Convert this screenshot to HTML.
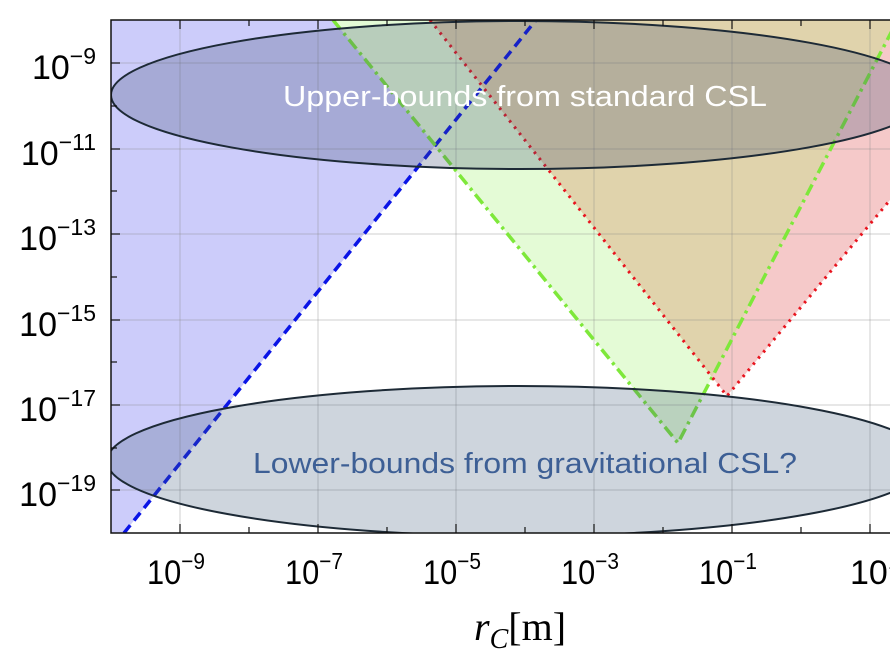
<!DOCTYPE html>
<html><head><style>
body{margin:0;background:#fff;width:890px;height:664px;overflow:hidden}
</style></head><body>
<svg width="890" height="664" viewBox="0 0 890 664" xmlns="http://www.w3.org/2000/svg">
<defs><clipPath id="c"><rect x="111" y="20" width="800" height="513"/></clipPath></defs>
<g clip-path="url(#c)">
<rect x="111" y="20" width="800" height="513" fill="#fff"/>
<polygon points="111,20 536,20 124,533 111,533" fill="#ccccfa"/>
<polygon points="333,20 678,443 895,25 895,20" fill="#e4fbd6"/>
<polygon points="712,377 727,396 895,194 895,25" fill="#f5c9c9"/>
<polygon points="430,20 712,377 895,25 895,20" fill="#e0d3ac"/>
<g stroke="#888" stroke-opacity="0.4" stroke-width="1">
<line x1="180" y1="20" x2="180" y2="533"/><line x1="318" y1="20" x2="318" y2="533"/>
<line x1="456" y1="20" x2="456" y2="533"/><line x1="594" y1="20" x2="594" y2="533"/>
<line x1="732" y1="20" x2="732" y2="533"/><line x1="870" y1="20" x2="870" y2="533"/>
<line x1="111" y1="63" x2="890" y2="63"/><line x1="111" y1="149" x2="890" y2="149"/>
<line x1="111" y1="234" x2="890" y2="234"/><line x1="111" y1="320" x2="890" y2="320"/>
<line x1="111" y1="405" x2="890" y2="405"/><line x1="111" y1="490" x2="890" y2="490"/>
</g>
<line x1="124" y1="533" x2="536" y2="20" stroke="#0a14e6" stroke-width="3.5" stroke-dasharray="10,6"/>
<polyline points="333,20 678,443 895,25" fill="none" stroke="#7ee83a" stroke-width="3.5" stroke-dasharray="12,5,3,5"/>
<polyline points="430,20 727,396 895,194" fill="none" stroke="#e8141e" stroke-width="3" stroke-dasharray="2.5,5.5"/>
<ellipse cx="520" cy="95" rx="409" ry="74" fill="#3a4a70" fill-opacity="0.26" stroke="#1d2a36" stroke-width="2"/>
<ellipse cx="518" cy="461" rx="411" ry="75" fill="#3a5878" fill-opacity="0.25" stroke="#1d2a36" stroke-width="2"/>
</g>
<rect x="111" y="20" width="800" height="513" fill="none" stroke="#111" stroke-width="1.5"/>
<g stroke="#111" stroke-width="1.2">
<line x1="180" y1="533" x2="180" y2="524"/><line x1="249" y1="533" x2="249" y2="527"/>
<line x1="318" y1="533" x2="318" y2="524"/><line x1="387" y1="533" x2="387" y2="527"/>
<line x1="456" y1="533" x2="456" y2="524"/><line x1="525" y1="533" x2="525" y2="527"/>
<line x1="594" y1="533" x2="594" y2="524"/><line x1="663" y1="533" x2="663" y2="527"/>
<line x1="732" y1="533" x2="732" y2="524"/><line x1="801" y1="533" x2="801" y2="527"/>
<line x1="870" y1="533" x2="870" y2="524"/>
<line x1="180" y1="20" x2="180" y2="29"/><line x1="249" y1="20" x2="249" y2="26"/>
<line x1="318" y1="20" x2="318" y2="29"/><line x1="387" y1="20" x2="387" y2="26"/>
<line x1="456" y1="20" x2="456" y2="29"/><line x1="525" y1="20" x2="525" y2="26"/>
<line x1="594" y1="20" x2="594" y2="29"/><line x1="663" y1="20" x2="663" y2="26"/>
<line x1="732" y1="20" x2="732" y2="29"/><line x1="801" y1="20" x2="801" y2="26"/>
<line x1="870" y1="20" x2="870" y2="29"/>
<line x1="111" y1="63" x2="120" y2="63"/><line x1="111" y1="106" x2="117" y2="106"/>
<line x1="111" y1="149" x2="120" y2="149"/><line x1="111" y1="191" x2="117" y2="191"/>
<line x1="111" y1="234" x2="120" y2="234"/><line x1="111" y1="277" x2="117" y2="277"/>
<line x1="111" y1="320" x2="120" y2="320"/><line x1="111" y1="362" x2="117" y2="362"/>
<line x1="111" y1="405" x2="120" y2="405"/><line x1="111" y1="448" x2="117" y2="448"/>
<line x1="111" y1="490" x2="120" y2="490"/>
</g>
<text x="525" y="106" text-anchor="middle" font-family="Liberation Sans, sans-serif" font-size="29" fill="#fff" textLength="484" lengthAdjust="spacingAndGlyphs">Upper-bounds from standard CSL</text>
<text x="525" y="473" text-anchor="middle" font-family="Liberation Sans, sans-serif" font-size="29" fill="#3d5f95" textLength="544" lengthAdjust="spacingAndGlyphs">Lower-bounds from gravitational CSL?</text>
<g font-family="Liberation Sans, sans-serif" font-size="34" fill="#000" text-anchor="end">
<text x="96" y="79">10<tspan font-size="23" dy="-15">−9</tspan></text>
<text x="96" y="165">10<tspan font-size="23" dy="-15">−11</tspan></text>
<text x="96" y="250">10<tspan font-size="23" dy="-15">−13</tspan></text>
<text x="96" y="336">10<tspan font-size="23" dy="-15">−15</tspan></text>
<text x="96" y="421">10<tspan font-size="23" dy="-15">−17</tspan></text>
<text x="96" y="506">10<tspan font-size="23" dy="-15">−19</tspan></text>
</g>
<g font-family="Liberation Sans, sans-serif" font-size="34" fill="#000">
<text x="147" y="584" textLength="58" lengthAdjust="spacingAndGlyphs">10<tspan font-size="23" dy="-15">−9</tspan></text>
<text x="285" y="584" textLength="58" lengthAdjust="spacingAndGlyphs">10<tspan font-size="23" dy="-15">−7</tspan></text>
<text x="423" y="584" textLength="58" lengthAdjust="spacingAndGlyphs">10<tspan font-size="23" dy="-15">−5</tspan></text>
<text x="561" y="584" textLength="58" lengthAdjust="spacingAndGlyphs">10<tspan font-size="23" dy="-15">−3</tspan></text>
<text x="699" y="584" textLength="58" lengthAdjust="spacingAndGlyphs">10<tspan font-size="23" dy="-15">−1</tspan></text>
<text x="850" y="584">10<tspan font-size="23" dy="-15">1</tspan></text>
</g>
<text x="474" y="640" font-family="Liberation Serif, serif" font-size="40" fill="#000"><tspan font-style="italic">r</tspan><tspan font-style="italic" font-size="28" dy="8">C</tspan><tspan dy="-8">[m]</tspan></text>
</svg>
</body></html>
